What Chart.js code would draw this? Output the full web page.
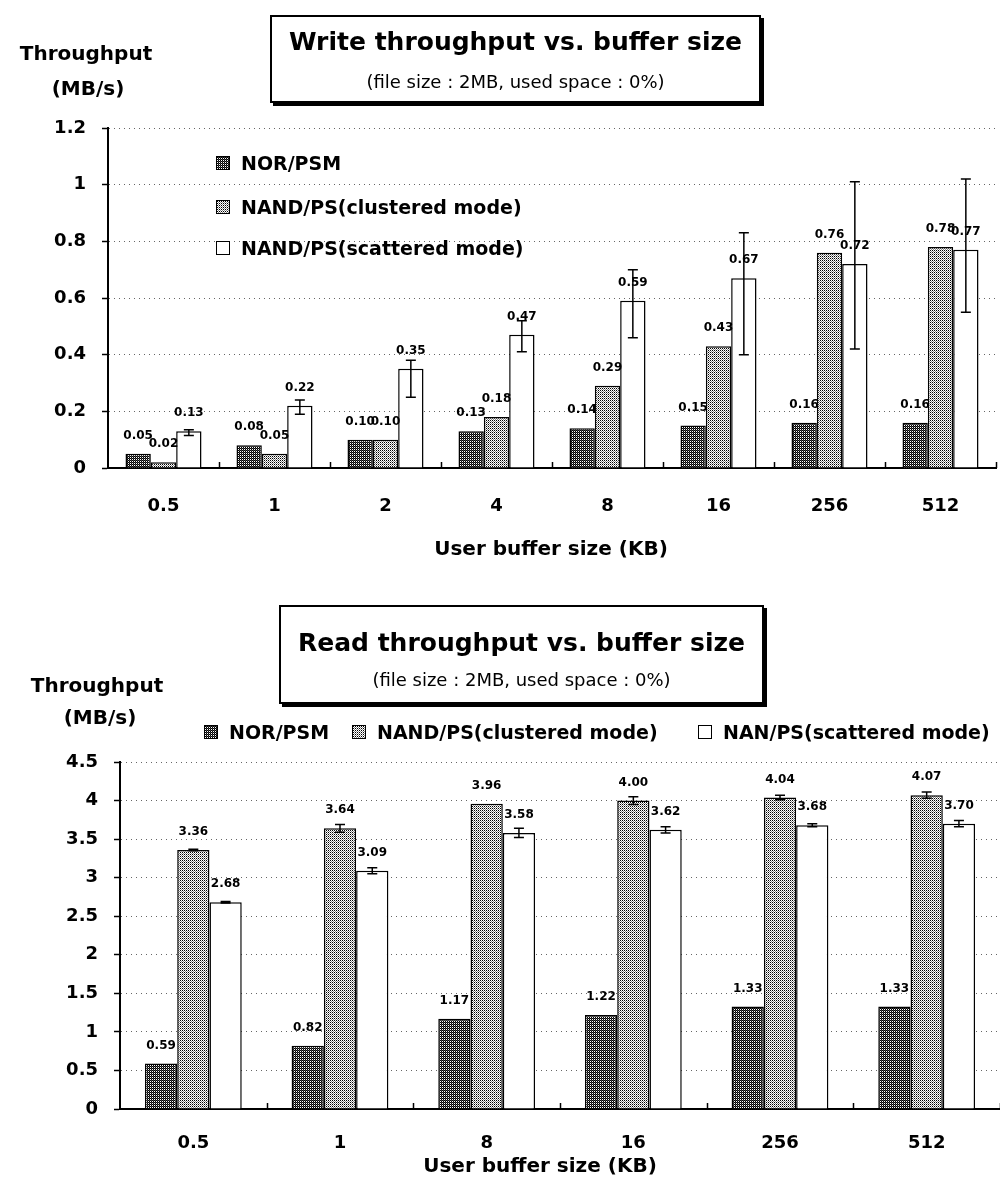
<!DOCTYPE html>
<html>
<head>
<meta charset="utf-8">
<script src="https://cdn.jsdelivr.net/npm/chart.js@4"></script>
<style>
  body { margin: 0; background: #fff; }
  #page { position: relative; width: 1000px; height: 1180px; overflow: hidden; font-family: "DejaVu Sans", sans-serif; color: #000; }
  canvas { position: absolute; left: 0; }
  .txt { position: absolute; white-space: nowrap; font-weight: bold; transform: translate(-50%, -50%); }
  .box { position: absolute; border: 2px solid #000; box-shadow: 3px 3px 0 #000; background: #fff; }
  .box .t { position: absolute; left: 0; right: 0; text-align: center; font-weight: bold; font-size: 25px; white-space: nowrap; transform: translateY(-50%); }
  .box .s { position: absolute; left: 0; right: 0; text-align: center; font-size: 18px; white-space: nowrap; transform: translateY(-50%); }
  .leg { position: absolute; font-weight: bold; font-size: 19px; white-space: nowrap; transform: translateY(-50%); display: flex; align-items: center; }
  .sw { display: inline-block; width: 12px; height: 12px; border: 1px solid #000; margin-right: 11px; }
</style>
</head>
<body>
<div id="page">
  <canvas id="writeChart" width="1000" height="580" style="top:0"></canvas>
  <canvas id="readChart" width="1000" height="600" style="top:580px"></canvas>

  <div class="box" style="left:270px; top:15px; width:487px; height:84px">
    <div class="t" style="top:24px">Write throughput vs. buffer size</div>
    <div class="s" style="top:64px">(file size : 2MB, used space : 0%)</div>
  </div>
  <div class="txt" style="left:86px; top:53px; font-size:20px">Throughput</div>
  <div class="txt" style="left:88px; top:88px; font-size:20px">(MB/s)</div>
  <div class="txt" style="left:551px; top:548px; font-size:20px">User buffer size (KB)</div>
  <div id="writeLegend"></div>

  <div class="box" style="left:279px; top:605px; width:481px; height:95px">
    <div class="t" style="top:35px">Read throughput vs. buffer size</div>
    <div class="s" style="top:72px">(file size : 2MB, used space : 0%)</div>
  </div>
  <div class="txt" style="left:97px; top:685px; font-size:20px">Throughput</div>
  <div class="txt" style="left:100px; top:717px; font-size:20px">(MB/s)</div>
  <div class="txt" style="left:540px; top:1165px; font-size:20px">User buffer size (KB)</div>
  <div id="readLegend"></div>
</div>

<script>
// ---- write chart data (MB/s) ----
const writeSizes = ['0.5', '1', '2', '4', '8', '16', '256', '512'];
const writeNor = [0.05, 0.08, 0.10, 0.13, 0.14, 0.15, 0.16, 0.16];
const writeClustered = [0.02, 0.05, 0.10, 0.18, 0.29, 0.43, 0.76, 0.78];
const writeScattered = [0.13, 0.22, 0.35, 0.47, 0.59, 0.67, 0.72, 0.77];
const writeScatteredLow = [0.115, 0.19, 0.25, 0.41, 0.46, 0.40, 0.42, 0.55];
const writeScatteredHigh = [0.135, 0.24, 0.38, 0.52, 0.70, 0.83, 1.01, 1.02];
const writeTicks = [0, 0.2, 0.4, 0.6, 0.8, 1, 1.2];

// ---- read chart data (MB/s) ----
const readSizes = ['0.5', '1', '8', '16', '256', '512'];
const readNor = [0.59, 0.82, 1.17, 1.22, 1.33, 1.33];
const readClustered = [3.36, 3.64, 3.96, 4.00, 4.04, 4.07];
const readScattered = [2.68, 3.09, 3.58, 3.62, 3.68, 3.70];
const readClusteredErr = [0.01, 0.05, 0, 0.05, 0.03, 0.04];
const readScatteredErr = [0.01, 0.04, 0.06, 0.04, 0.02, 0.04];
const readTicks = [0, 0.5, 1, 1.5, 2, 2.5, 3, 3.5, 4, 4.5];

const FONT = 'DejaVu Sans';

//make a small dotted fill like the scanned bars
function makePattern(cells) {
    const c = document.createElement('canvas');
    c.width = 2; c.height = 2;
    const g = c.getContext('2d');
    cells.forEach((col, i) => {
        g.fillStyle = col;
        g.fillRect(i % 2, Math.floor(i / 2), 1, 1);
    });
    return c;
}
const norTile = makePattern(['#000', '#444', '#fff', '#000']);
const clusTile = makePattern(['#000', '#fff', '#fff', '#888']);
const scatTile = makePattern(['#fff', '#fff', '#fff', '#fff']);

function fillOf(tile) {
    return document.createElement('canvas').getContext('2d').createPattern(tile, 'repeat');
}

//value labels, error bars and the little category ticks
const extrasPlugin = {
    id: 'extras',
    afterDatasetsDraw(chart) {
        const ctx = chart.ctx;
        const y = chart.scales.y;
        const area = chart.chartArea;
        ctx.save();
        ctx.strokeStyle = '#000';
        ctx.lineWidth = 1.5;

        // ticks at category boundaries, pointing up
        const n = chart.data.labels.length;
        const step = (area.right - area.left) / n;
        for (let i = 1; i <= n; i++) {
            const px = Math.round(area.left + step * i) + 0.5;
            ctx.beginPath();
            ctx.moveTo(px, area.bottom);
            ctx.lineTo(px, area.bottom - 6);
            ctx.stroke();
        }

        chart.data.datasets.forEach((ds, di) => {
            const meta = chart.getDatasetMeta(di);
            meta.data.forEach((bar, i) => {
                let lo = null, hi = null;
                if (ds.errLow) { lo = ds.errLow[i]; hi = ds.errHigh[i]; }
                if (ds.errPm && ds.errPm[i]) { lo = ds.data[i] - ds.errPm[i]; hi = ds.data[i] + ds.errPm[i]; }
                if (lo !== null) {
                    const yl = y.getPixelForValue(lo);
                    const yh = y.getPixelForValue(hi);
                    const cap = 5;
                    ctx.beginPath();
                    ctx.moveTo(bar.x, yl); ctx.lineTo(bar.x, yh);
                    ctx.moveTo(bar.x - cap, yl); ctx.lineTo(bar.x + cap, yl);
                    ctx.moveTo(bar.x - cap, yh); ctx.lineTo(bar.x + cap, yh);
                    ctx.stroke();
                }
                ctx.fillStyle = '#000';
                ctx.font = 'bold 12px ' + FONT;
                ctx.textAlign = 'center';
                ctx.textBaseline = 'middle';
                ctx.fillText(ds.data[i].toFixed(2), bar.x, bar.y - 18);
            });
        });
        ctx.restore();
    }
};

function buildChart(canvasId, opts) {
    const ctx = document.getElementById(canvasId).getContext('2d');
    return new Chart(ctx, {
        type: 'bar',
        data: {
            labels: opts.labels,
            datasets: opts.datasets.map(d => Object.assign({
                borderColor: '#000',
                borderWidth: 1.5,
                borderSkipped: 'bottom',
                barPercentage: 1,
                categoryPercentage: opts.catPct
            }, d))
        },
        options: {
            responsive: false,
            animation: false,
            layout: { padding: { top: opts.top, right: opts.right, left: 0, bottom: 0 } },
            plugins: { legend: { display: false }, tooltip: { enabled: false } },
            scales: {
                x: {
                    grid: { display: false },
                    border: { display: true, color: '#000', width: 2 },
                    ticks: { color: '#000', padding: opts.xPad, font: { family: FONT, weight: 'bold', size: 18 } },
                    afterFit: s => { s.height = opts.xHeight; }
                },
                y: {
                    min: 0,
                    max: opts.ticks[opts.ticks.length - 1],
                    afterBuildTicks: s => { s.ticks = opts.ticks.map(v => ({ value: v })); },
                    grid: { color: '#666', lineWidth: 1, tickLength: 6, tickColor: '#000', tickWidth: 1.5 },
                    border: { display: true, color: '#000', width: 2, dash: [1, 4] },
                    ticks: { color: '#000', padding: 16, font: { family: FONT, weight: 'bold', size: 18 },
                             callback: v => String(v) },
                    afterFit: s => { s.width = opts.yWidth; }
                }
            }
        },
        plugins: [extrasPlugin]
    });
}

buildChart('writeChart', {
    labels: writeSizes,
    catPct: 0.685,
    top: 128, right: 4, xHeight: 112, yWidth: 108, xPad: 20,
    ticks: writeTicks,
    datasets: [
        { label: 'NOR/PSM', data: writeNor, backgroundColor: fillOf(norTile) },
        { label: 'NAND/PS(clustered mode)', data: writeClustered, backgroundColor: fillOf(clusTile) },
        { label: 'NAND/PS(scattered mode)', data: writeScattered, backgroundColor: '#fff',
          errLow: writeScatteredLow, errHigh: writeScatteredHigh }
    ]
});

buildChart('readChart', {
    labels: readSizes,
    catPct: 0.66,
    top: 182, right: 0, xHeight: 71, yWidth: 120, xPad: 16,
    ticks: readTicks,
    datasets: [
        { label: 'NOR/PSM', data: readNor, backgroundColor: fillOf(norTile) },
        { label: 'NAND/PS(clustered mode)', data: readClustered, backgroundColor: fillOf(clusTile), errPm: readClusteredErr },
        { label: 'NAN/PS(scattered mode)', data: readScattered, backgroundColor: '#fff', errPm: readScatteredErr }
    ]
});

//legends as plain text with pattern swatches
function addLegend(id, items) {
    const host = document.getElementById(id);
    items.forEach(it => {
        const el = document.createElement('div');
        el.className = 'leg';
        el.style.left = it.x + 'px';
        el.style.top = it.y + 'px';
        el.innerHTML = `<span class="sw" style="background-image:url(${it.tile.toDataURL()})"></span>${it.text}`;
        host.appendChild(el);
    });
}
addLegend('writeLegend', [
    { x: 216, y: 163, tile: norTile, text: 'NOR/PSM' },
    { x: 216, y: 207, tile: clusTile, text: 'NAND/PS(clustered mode)' },
    { x: 216, y: 248, tile: scatTile, text: 'NAND/PS(scattered mode)' }
]);
addLegend('readLegend', [
    { x: 204, y: 732, tile: norTile, text: 'NOR/PSM' },
    { x: 352, y: 732, tile: clusTile, text: 'NAND/PS(clustered mode)' },
    { x: 698, y: 732, tile: scatTile, text: 'NAN/PS(scattered mode)' }
]);
</script>
</body>
</html>
